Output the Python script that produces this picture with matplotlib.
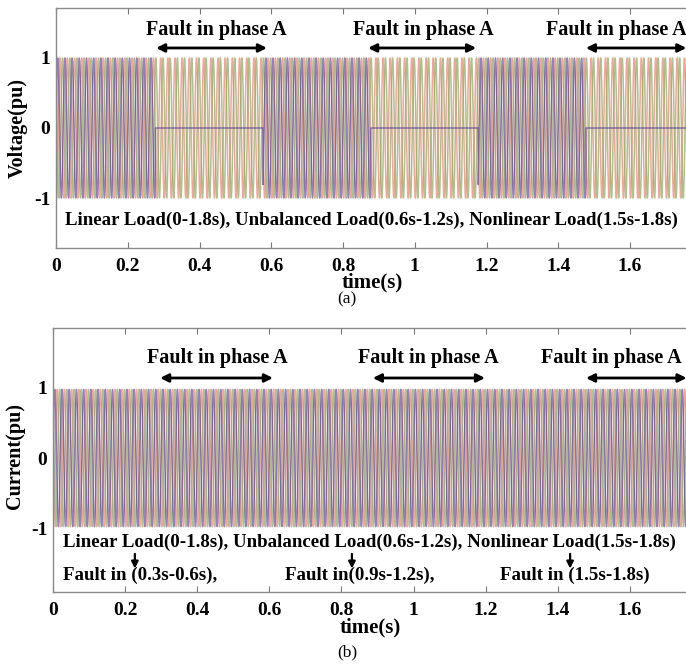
"""
Three-phase voltage / current waveforms with phase-A faults (two stacked panels).
"""
import numpy as np
import matplotlib
matplotlib.use("Agg")
import matplotlib.pyplot as plt

plt.rcParams.update({"font.family": ["Liberation Serif", "DejaVu Serif"],
                     "font.weight": "bold", "axes.linewidth": 1.0})

# ---------------------------------------------------------------- data
t_end = 1.8
freq_hz = 50
phase_names = ["A", "B", "C"]
phase_deg = [0, -120, 120]
phase_colors = ["#4a2f96", "#ef8f80", "#8fae6a"]
phase_alpha = [0.6, 0.8, 0.75]
amp_voltage = [1.0, 1.0, 1.0]
amp_current = [0.98, 0.98, 0.98]
# fault windows on phase A (voltage of phase A collapses to 0)
fault_start = [0.277, 0.877, 1.477]
fault_end = [0.577, 1.177, 1.8]

xticks = [0, 0.2, 0.4, 0.6, 0.8, 1.0, 1.2, 1.4, 1.6, 1.8]
xtick_labels = ["0", "0.2", "0.4", "0.6", "0.8", "1", "1.2", "1.4", "1.6", ""]
yticks = [-1, 0, 1]
ytick_labels = ["-1", "0", "1"]

t = np.linspace(0, t_end, 40000)


def waves(amps, fault_on_a):
    out = []
    for k, (a, ph) in enumerate(zip(amps, phase_deg)):
        y = a * np.sin(2 * np.pi * freq_hz * t + np.deg2rad(ph))
        if fault_on_a and k == 0:
            for s, e in zip(fault_start, fault_end):
                y[(t >= s) & (t <= e)] = 0.0
        out.append(y)
    return out


fig = plt.figure(figsize=(6.86, 6.64), dpi=100)
W, H = 686, 664


def add_ax(left, top, bottom, px_per_s):
    right = left + t_end * px_per_s
    return fig.add_axes([left / W, 1 - bottom / H, (right - left) / W, (bottom - top) / H])


def style(ax, ylim):
    ax.set_xlim(0, t_end)
    ax.set_ylim(*ylim)
    ax.set_xticks(xticks)
    ax.set_xticklabels(xtick_labels)
    ax.set_yticks(yticks)
    ax.set_yticklabels(ytick_labels)
    ax.tick_params(axis="x", direction="in", top=True, length=4, width=0.8,
                   labelsize=14, pad=7, color="#777777")
    ax.tick_params(axis="y", direction="in", length=0, labelsize=14, pad=4)
    for sp in ax.spines.values():
        sp.set_color("#8a8a8a")
    for lab in ax.get_xticklabels() + ax.get_yticklabels():
        lab.set_fontweight("bold")


def darrow(ax, x0, x1, y):
    ax.annotate("", xy=(x0, y), xytext=(x1, y), annotation_clip=False,
                arrowprops=dict(arrowstyle="<|-|>", color="black", lw=2.0,
                                mutation_scale=12, shrinkA=0, shrinkB=0))


def downarrow(ax, x, y0, y1):
    ax.annotate("", xy=(x, y1), xytext=(x, y0), annotation_clip=False,
                arrowprops=dict(arrowstyle="-|>", color="black", lw=1.6,
                                mutation_scale=10, shrinkA=0, shrinkB=0))


def draw_phases(ax, ys):
    # B and C first, phase A on top (semi-transparent)
    for k in [1, 2, 0]:
        ax.plot(t, ys[k], color=phase_colors[k], lw=1.1, alpha=phase_alpha[k])


# ---------------------------------------------------------------- (a) voltage
axa = add_ax(56, 8, 248, 358.75)
draw_phases(axa, waves(amp_voltage, True))
style(axa, (-1.714, 1.714))
for xc, ha in [(0.446, "center"), (1.023, "center"), (1.366, "left")]:
    axa.text(xc, 1.40, "Fault in phase A", ha=ha, va="center", fontsize=14.5, fontweight="bold")
darrow(axa, 0.279, 0.588, 1.143)
darrow(axa, 0.870, 1.171, 1.143)
darrow(axa, 1.477, 1.757, 1.143)
axa.text(0.025, -1.314, "Linear Load(0-1.8s), Unbalanced Load(0.6s-1.2s), Nonlinear Load(1.5s-1.8s)",
         ha="left", va="center", fontsize=13.6, fontweight="bold")
fig.text(18 / W, 1 - 128 / H, "Voltage(pu)", rotation=90, ha="center", va="center",
         fontsize=14.5, fontweight="bold")
fig.text(372 / W, 1 - 282 / H, "time(s)", ha="center", va="center", fontsize=15, fontweight="bold")
fig.text(347 / W, 1 - 299 / H, "(a)", ha="center", va="center", fontsize=12.5, fontweight="normal")

# ---------------------------------------------------------------- (b) current
axb = add_ax(53, 328, 592, 360.6)
draw_phases(axb, waves(amp_current, False))
style(axb, (-1.914, 1.857))
for xc, ha in [(0.455, "center"), (1.040, "center"), (1.353, "left")]:
    axb.text(xc, 1.43, "Fault in phase A", ha=ha, va="center", fontsize=14.5, fontweight="bold")
darrow(axb, 0.297, 0.610, 1.143)
darrow(axb, 0.887, 1.198, 1.143)
darrow(axb, 1.478, 1.757, 1.143)
axb.text(0.028, -1.20, "Linear Load(0-1.8s), Unbalanced Load(0.6s-1.2s), Nonlinear Load(1.5s-1.8s)",
         ha="left", va="center", fontsize=13.6, fontweight="bold")
for xs, s in [(0.028, "Fault in (0.3s-0.6s),"), (0.643, "Fault in(0.9s-1.2s),"),
              (1.240, "Fault in (1.5s-1.8s)")]:
    axb.text(xs, -1.67, s, ha="left", va="center", fontsize=13.6, fontweight="bold")
for xa in [0.227, 0.829, 1.434]:
    downarrow(axb, xa, -1.37, -1.58)
fig.text(15 / W, 1 - 456 / H, "Current(pu)", rotation=90, ha="center", va="center",
         fontsize=14.5, fontweight="bold")
fig.text(370 / W, 1 - 627 / H, "time(s)", ha="center", va="center", fontsize=15, fontweight="bold")
fig.text(347 / W, 1 - 652 / H, "(b)", ha="center", va="center", fontsize=12.5, fontweight="normal")

fig.savefig("out.png", dpi=100)
